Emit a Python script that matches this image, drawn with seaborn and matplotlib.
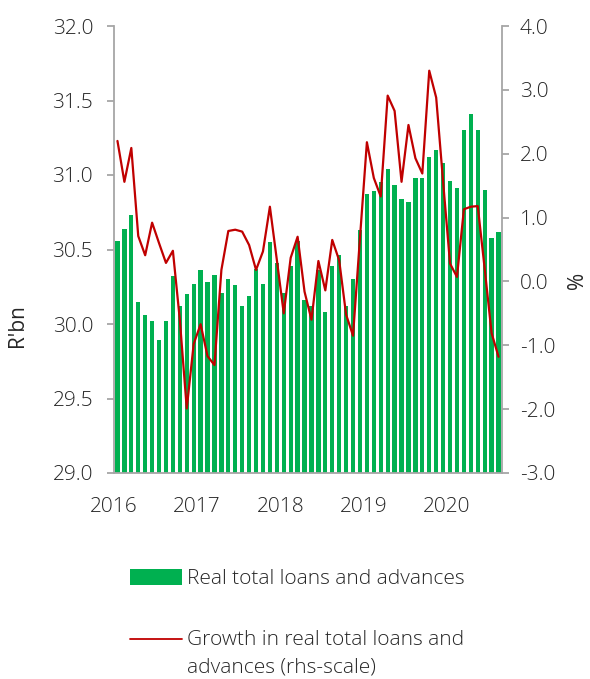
import numpy as np
import pandas as pd
import matplotlib
matplotlib.use("Agg")
import matplotlib.pyplot as plt
from matplotlib.patches import Patch
from matplotlib.lines import Line2D
from matplotlib.legend_handler import HandlerBase
import seaborn as sns

# ---- data (monthly, Jan 2016 - Aug 2020) ----
months = pd.date_range("2016-01-01", periods=56, freq="MS").strftime("%Y-%m").tolist()
loans = [30.56, 30.64, 30.73, 30.15, 30.06, 30.02, 29.89, 30.02, 30.32, 30.12, 30.20, 30.27,
         30.36, 30.28, 30.33, 30.21, 30.30, 30.26, 30.12, 30.19, 30.37, 30.27, 30.55, 30.41,
         30.21, 30.39, 30.56, 30.16, 30.12, 30.36, 30.08, 30.39, 30.46, 30.12, 30.30, 30.63,
         30.87, 30.89, 30.95, 31.04, 30.93, 30.84, 30.82, 30.98, 30.98, 31.12, 31.17, 31.08,
         30.96, 30.91, 31.30, 31.41, 31.30, 30.90, 30.58, 30.62]
growth = [2.20, 1.56, 2.09, 0.71, 0.41, 0.92, 0.60, 0.29, 0.48, -0.60, -1.99, -0.98,
          -0.67, -1.17, -1.31, 0.18, 0.79, 0.81, 0.78, 0.57, 0.18, 0.47, 1.17, 0.34,
          -0.50, 0.37, 0.70, -0.16, -0.60, 0.32, -0.14, 0.65, 0.33, -0.52, -0.85, 0.68,
          2.18, 1.62, 1.33, 2.91, 2.67, 1.56, 2.45, 1.93, 1.69, 3.30, 2.88, 1.56,
          0.28, 0.07, 1.13, 1.17, 1.18, 0.20, -0.81, -1.18]
year_labels = ["2016", "2017", "2018", "2019", "2020"]
left_ticks = [29.0, 29.5, 30.0, 30.5, 31.0, 31.5, 32.0]
right_ticks = [-3.0, -2.0, -1.0, 0.0, 1.0, 2.0, 3.0, 4.0]
bar_label = "Real total loans and advances"
line_label = "Growth in real total loans and\nadvances (rhs-scale)"

GREEN = "#00B050"
RED = "#C00000"
GRAY = "#A6A6A6"
TXT = "#262626"
FS = 15

sns.set_style("white")
plt.rcParams["font.family"] = ["Open Sans", "DejaVu Sans"]
plt.rcParams["font.weight"] = "light"
plt.rcParams["text.color"] = TXT
plt.rcParams["axes.labelcolor"] = TXT
plt.rcParams["xtick.color"] = TXT
plt.rcParams["ytick.color"] = TXT

df = pd.DataFrame({"month": months, "loans": loans, "growth": growth})
df["pos"] = np.arange(len(df))

fig = plt.figure(figsize=(5.90, 6.79), dpi=100)
ax = fig.add_axes([114 / 590, 1 - 473 / 679, 388 / 590, 447 / 679])

sns.barplot(data=df, x="month", y="loans", ax=ax, color=GREEN, saturation=1,
            width=0.62, linewidth=0)
ax.set_ylim(29.0, 32.0)
ax.set_xlim(-0.5, len(df) - 0.5)
ax.set_yticks(left_ticks)
ax.set_yticklabels([f"{v:.1f}" for v in left_ticks])
year_pos = [i * 12 - 0.5 for i in range(len(year_labels))]
ax.set_xticks(year_pos)
ax.set_xticklabels(year_labels)
ax.set_xlabel("")
ax.set_ylabel("R'bn", fontsize=FS)
ax.yaxis.set_label_coords(-0.222, 0.33)

ax2 = ax.twinx()
sns.lineplot(data=df, x="pos", y="growth", ax=ax2, color=RED, linewidth=1.6)
ax2.set_ylim(-3.0, 4.0)
ax2.set_yticks(right_ticks)
ax2.set_yticklabels([f"{v:.1f}" for v in right_ticks])
ax2.set_xlim(-0.5, len(df) - 0.5)
ax2.set_xlabel("")
ax2.set_ylabel("%", fontsize=FS)
ax2.yaxis.set_label_coords(1.168, 0.43)

for a in (ax, ax2):
    for s in a.spines.values():
        s.set_color(GRAY)
        s.set_linewidth(1.3)
    a.spines["top"].set_visible(False)
    a.tick_params(axis="both", which="both", direction="out", length=5,
                  width=1.3, color=GRAY, labelsize=FS)
ax.spines["right"].set_visible(False)
ax.tick_params(axis="y", pad=10)
ax.tick_params(axis="x", pad=12.5)
ax2.tick_params(axis="y", pad=8)
ax2.spines["left"].set_visible(False)
ax2.spines["bottom"].set_visible(False)


class TopLineHandler(HandlerBase):
    """Draw the line handle aligned with the first text line."""
    def create_artists(self, legend, orig_handle, xdescent, ydescent,
                       width, height, fontsize, trans):
        y = height / 2 - ydescent + fontsize * 0.72
        ln = Line2D([-xdescent, -xdescent + width], [y, y],
                    color=orig_handle.get_color(),
                    linewidth=orig_handle.get_linewidth())
        ln.set_transform(trans)
        return [ln]


h1 = Patch(facecolor=GREEN, edgecolor="none")
h2 = Line2D([], [], color=RED, linewidth=1.3)
fig.legend([h1], [bar_label], loc="center left",
           bbox_to_anchor=(130 / 590, 1 - 579 / 679), frameon=False,
           fontsize=FS, handlelength=2.5, handleheight=0.8,
           handletextpad=0.25, borderpad=0, borderaxespad=0)
leg2 = fig.legend([h2], [line_label], loc="center left",
                  bbox_to_anchor=(130 / 590, 1 - 654 / 679), frameon=False,
                  fontsize=FS, handlelength=2.5, handletextpad=0.25,
                  borderpad=0, borderaxespad=0,
                  handler_map={Line2D: TopLineHandler()})
for t in leg2.get_texts():
    t.set_linespacing(1.5)

fig.savefig("out.png", dpi=100)
